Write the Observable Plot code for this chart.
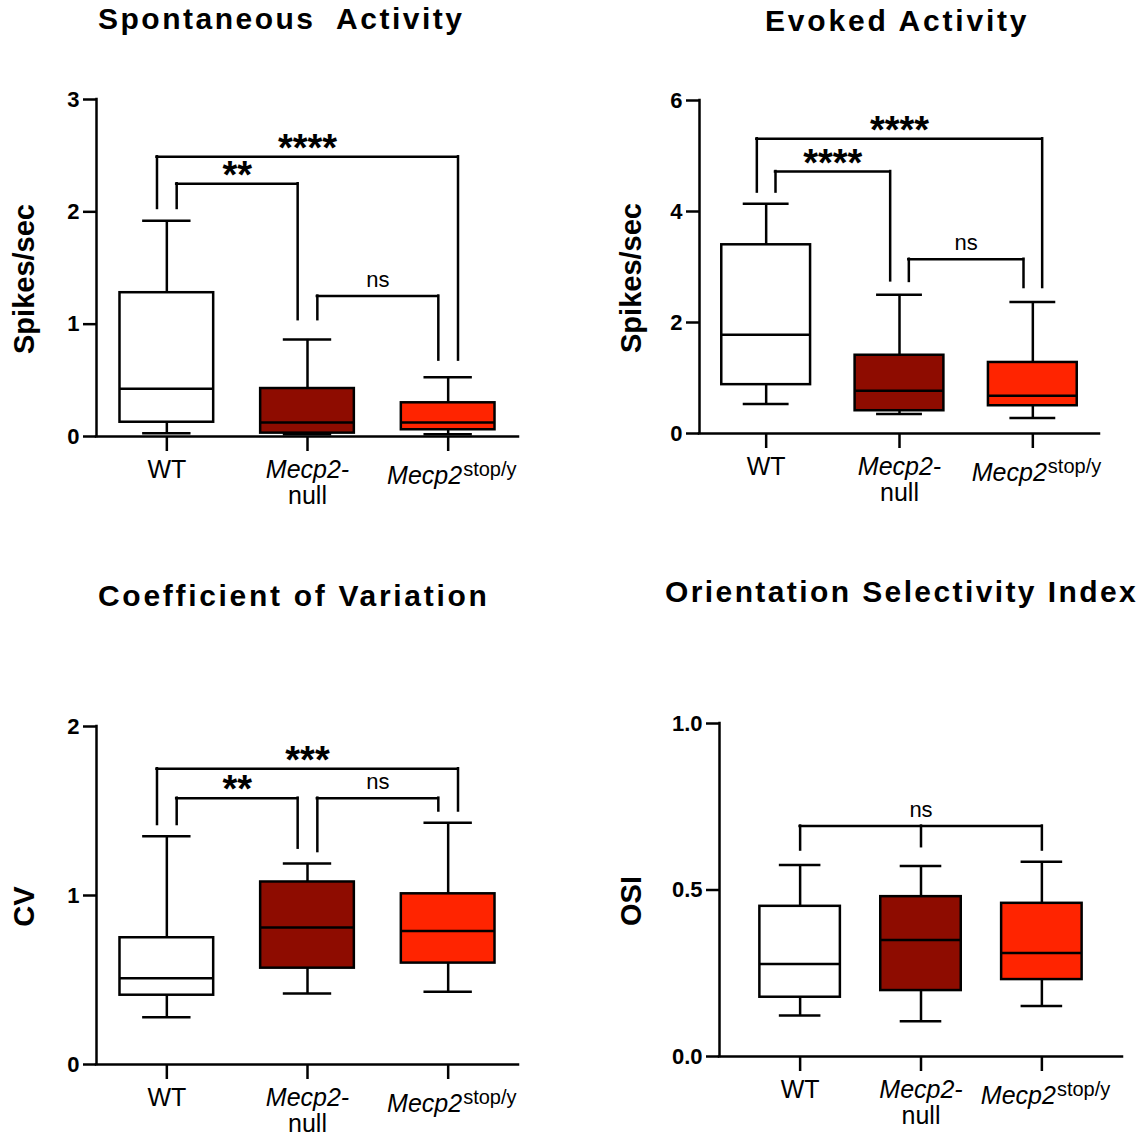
<!DOCTYPE html>
<html><head><meta charset="utf-8">
<script src="https://cdn.jsdelivr.net/npm/d3@7"></script>
<script src="https://cdn.jsdelivr.net/npm/@observablehq/plot@0.6"></script>
<style>
body{margin:0;background:#fff;}
#root{position:relative;width:1143px;height:1135px;overflow:hidden;font-family:"Liberation Sans",Arial,Helvetica,sans-serif;background:#fff;}
.title{position:absolute;font-weight:bold;font-size:30px;line-height:30px;white-space:pre;color:#000;}
.panel{position:absolute;}
</style></head><body><div id="root"></div>
<script>
// ---------- data ----------
const categories = ["WT", "Mecp2-null", "Mecp2stop/y"];
const boxFills = ["#ffffff", "#8e0c00", "#ff2400"];
const tickMain = ["WT", "Mecp2-", "Mecp2"];
const tickSecond = ["", "null", ""];
const tickSup = ["", "", "stop/y"];

// Spontaneous activity (spikes/sec)
const spontMin = [0.03, 0.02, 0.02];
const spontQ1 = [0.127, 0.03, 0.06];
const spontMedian = [0.425, 0.125, 0.125];
const spontQ3 = [1.28, 0.427, 0.30];
const spontMax = [1.92, 0.864, 0.528];
const spontSig = [
  {label: "**", top: 2.25, legs: [["WT", 2.03, 1], ["Mecp2-null", 1.04, -1]]},
  {label: "****", top: 2.49, legs: [["WT", 2.03, -1], ["Mecp2stop/y", 0.68, 1]]},
  {label: "ns", top: 1.25, legs: [["Mecp2-null", 1.04, 1], ["Mecp2stop/y", 0.68, -1]]}
];

// Evoked activity (spikes/sec)
const evokedMin = [0.53, 0.35, 0.28];
const evokedQ1 = [0.88, 0.41, 0.50];
const evokedMedian = [1.78, 0.77, 0.68];
const evokedQ3 = [3.40, 1.41, 1.28];
const evokedMax = [4.14, 2.50, 2.37];
const evokedSig = [
  {label: "****", top: 4.72, legs: [["WT", 4.35, 1], ["Mecp2-null", 2.75, -1]]},
  {label: "****", top: 5.31, legs: [["WT", 4.35, -1], ["Mecp2stop/y", 2.63, 1]]},
  {label: "ns", top: 3.14, legs: [["Mecp2-null", 2.74, 1], ["Mecp2stop/y", 2.63, -1]]}
];

// Coefficient of variation
const cvMin = [0.28, 0.42, 0.43];
const cvQ1 = [0.41, 0.57, 0.60];
const cvMedian = [0.51, 0.81, 0.79];
const cvQ3 = [0.75, 1.08, 1.01];
const cvMax = [1.35, 1.19, 1.43];
const cvSig = [
  {label: "**", top: 1.576, legs: [["WT", 1.42, 1], ["Mecp2-null", 1.28, -1]]},
  {label: "***", top: 1.75, legs: [["WT", 1.42, -1], ["Mecp2stop/y", 1.50, 1]]},
  {label: "ns", top: 1.576, legs: [["Mecp2-null", 1.26, 1], ["Mecp2stop/y", 1.50, -1]]}
];

// Orientation selectivity index
const osiMin = [0.123, 0.106, 0.152];
const osiQ1 = [0.178, 0.198, 0.231];
const osiMedian = [0.278, 0.35, 0.311];
const osiQ3 = [0.451, 0.48, 0.46];
const osiMax = [0.575, 0.572, 0.585];
const osiSig = [
  {label: "ns", top: 0.692, legs: [["WT", 0.62, 0], ["Mecp2-null", 0.63, 0], ["Mecp2stop/y", 0.62, 0]]}
];

// ---------- style / layout ----------
const FONT = '"Liberation Sans", Arial, Helvetica, sans-serif';
const SW = 2.5;
const BOX_HALF = 0.333, CAP_HALF = 0.172, LEG_OFF = 0.07;

const panels = [
  {title: "Spontaneous  Activity", titleLeft: 98, titleTop: 4, titleSpacing: 2.5,
   left: 0, top: 60, width: 540, height: 470, mL: 96, mR: 22, mT: 39, mB: 94,
   xDomain: [-0.5, 2.5], yDomain: [0, 3], yTicks: [0, 1, 2, 3], yFormat: d3.format("d"),
   yLabel: "Spikes/sec", yLabelDx: -72,
   min: spontMin, q1: spontQ1, median: spontMedian, q3: spontQ3, max: spontMax, sig: spontSig},
  {title: "Evoked Activity", titleLeft: 765, titleTop: 6, titleSpacing: 2.8,
   left: 571, top: 60, width: 572, height: 470, mL: 128, mR: 44, mT: 40, mB: 97,
   xDomain: [-0.5, 2.5], yDomain: [0, 6], yTicks: [0, 2, 4, 6], yFormat: d3.format("d"),
   yLabel: "Spikes/sec", yLabelDx: -68,
   min: evokedMin, q1: evokedQ1, median: evokedMedian, q3: evokedQ3, max: evokedMax, sig: evokedSig},
  {title: "Coefficient of Variation", titleLeft: 98, titleTop: 581, titleSpacing: 2.7,
   left: 0, top: 680, width: 540, height: 455, mL: 96, mR: 22, mT: 46, mB: 71,
   xDomain: [-0.5, 2.5], yDomain: [0, 2], yTicks: [0, 1, 2], yFormat: d3.format("d"),
   yLabel: "CV", yLabelDx: -72,
   min: cvMin, q1: cvQ1, median: cvMedian, q3: cvQ3, max: cvMax, sig: cvSig},
  {title: "Orientation Selectivity Index", titleLeft: 665, titleTop: 577, titleSpacing: 2.4,
   left: 571, top: 680, width: 572, height: 455, mL: 148, mR: 21, mT: 43, mB: 79,
   xDomain: [-0.667, 2.667], yDomain: [0, 1], yTicks: [0, 0.5, 1], yFormat: d3.format(".1f"),
   yLabel: "OSI", yLabelDx: -88,
   min: osiMin, q1: osiQ1, median: osiMedian, q3: osiQ3, max: osiMax, sig: osiSig}
];

const root = document.getElementById("root");

function buildPanel(p) {
  const xi = c => categories.indexOf(c);
  const rows = categories.map((c, i) => ({cat: c, i, min: p.min[i], q1: p.q1[i], median: p.median[i], q3: p.q3[i], max: p.max[i], fill: boxFills[i]}));
  const labels = categories.map((c, i) => ({i, main: tickMain[i], second: tickSecond[i], sup: tickSup[i]}));
  const legs = p.sig.flatMap(b => b.legs.map(([c, end, side]) => ({x: xi(c) + side * LEG_OFF, y1: end, y2: b.top})));
  const bars = p.sig.map(b => {
    const xs = b.legs.map(([c, , s]) => xi(c) + s * LEG_OFF);
    return {x1: xs[0], x2: xs[xs.length - 1], mid: (xs[0] + xs[xs.length - 1]) / 2, y: b.top, label: b.label};
  });
  const starBars = bars.filter(b => b.label !== "ns");
  const nsBars = bars.filter(b => b.label === "ns");

  return Plot.plot({
    width: p.width, height: p.height,
    marginLeft: p.mL, marginRight: p.mR, marginTop: p.mT, marginBottom: p.mB,
    x: {domain: p.xDomain},
    y: {domain: p.yDomain},
    style: {fontFamily: FONT, color: "#000", background: "transparent", overflow: "visible"},
    marks: [
      // whiskers
      Plot.ruleX(rows, {x: "i", y1: "q3", y2: "max", strokeWidth: SW}),
      Plot.ruleX(rows, {x: "i", y1: "min", y2: "q1", strokeWidth: SW}),
      Plot.ruleY(rows, {x1: d => d.i - CAP_HALF, x2: d => d.i + CAP_HALF, y: "max", strokeWidth: SW}),
      Plot.ruleY(rows, {x1: d => d.i - CAP_HALF, x2: d => d.i + CAP_HALF, y: "min", strokeWidth: SW}),
      // boxes
      Plot.rect(rows, {x1: d => d.i - BOX_HALF, x2: d => d.i + BOX_HALF, y1: "q1", y2: "q3", fill: "fill", stroke: "#000", strokeWidth: SW}),
      Plot.ruleY(rows, {x1: d => d.i - BOX_HALF, x2: d => d.i + BOX_HALF, y: "median", strokeWidth: SW}),
      // significance brackets
      Plot.ruleY(bars, {x1: "x1", x2: "x2", y: "y", strokeWidth: SW, strokeLinecap: "square"}),
      Plot.ruleX(legs, {x: "x", y1: "y1", y2: "y2", strokeWidth: SW, strokeLinecap: "square"}),
      Plot.text(starBars, {x: "mid", y: "y", text: "label", fontSize: 38, fontWeight: "bold", lineAnchor: "bottom", dy: 4}),
      Plot.text(nsBars, {x: "mid", y: "y", text: "label", fontSize: 22, lineAnchor: "bottom", dy: -9}),
      // axes
      Plot.axisY({ticks: p.yTicks, tickFormat: p.yFormat, tickSize: 13, tickPadding: 4, fontSize: 22, fontWeight: "bold", strokeWidth: SW, label: null}),
      Plot.axisX({ticks: [0, 1, 2], tickSize: 15, tickFormat: () => "", strokeWidth: SW, label: null}),
      Plot.ruleX([p.xDomain[0]], {strokeWidth: SW, strokeLinecap: "square"}),
      Plot.ruleY([p.yDomain[0]], {strokeWidth: SW, strokeLinecap: "square"}),
      // y label
      Plot.text([p.yLabel], {frameAnchor: "left", textAnchor: "middle", rotate: -90, dx: p.yLabelDx, dy: 11, fontSize: 29, fontWeight: "bold"}),
      // category labels
      Plot.text(labels.filter(d => d.i === 0), {x: "i", text: "main", frameAnchor: "bottom", lineAnchor: "bottom", dy: 41, fontSize: 25}),
      Plot.text(labels.filter(d => d.i === 1), {x: "i", text: "main", frameAnchor: "bottom", lineAnchor: "bottom", dy: 41, fontSize: 25, fontStyle: "italic"}),
      Plot.text(labels.filter(d => d.second), {x: "i", text: "second", frameAnchor: "bottom", lineAnchor: "bottom", dy: 67, fontSize: 25}),
      Plot.text(labels.filter(d => d.sup), {x: "i", text: "main", frameAnchor: "bottom", lineAnchor: "bottom", textAnchor: "end", dx: 14, dy: 47, fontSize: 25, fontStyle: "italic"}),
      Plot.text(labels.filter(d => d.sup), {x: "i", text: "sup", frameAnchor: "bottom", lineAnchor: "bottom", textAnchor: "start", dx: 15, dy: 39, fontSize: 20})
    ]
  });
}

for (const p of panels) {
  const t = document.createElement("div");
  t.className = "title";
  t.textContent = p.title;
  t.style.left = p.titleLeft + "px";
  t.style.top = p.titleTop + "px";
  t.style.letterSpacing = p.titleSpacing + "px";
  root.appendChild(t);
  const wrap = document.createElement("div");
  wrap.className = "panel";
  wrap.style.left = p.left + "px";
  wrap.style.top = p.top + "px";
  wrap.appendChild(buildPanel(p));
  root.appendChild(wrap);
}
</script>
</body></html>
